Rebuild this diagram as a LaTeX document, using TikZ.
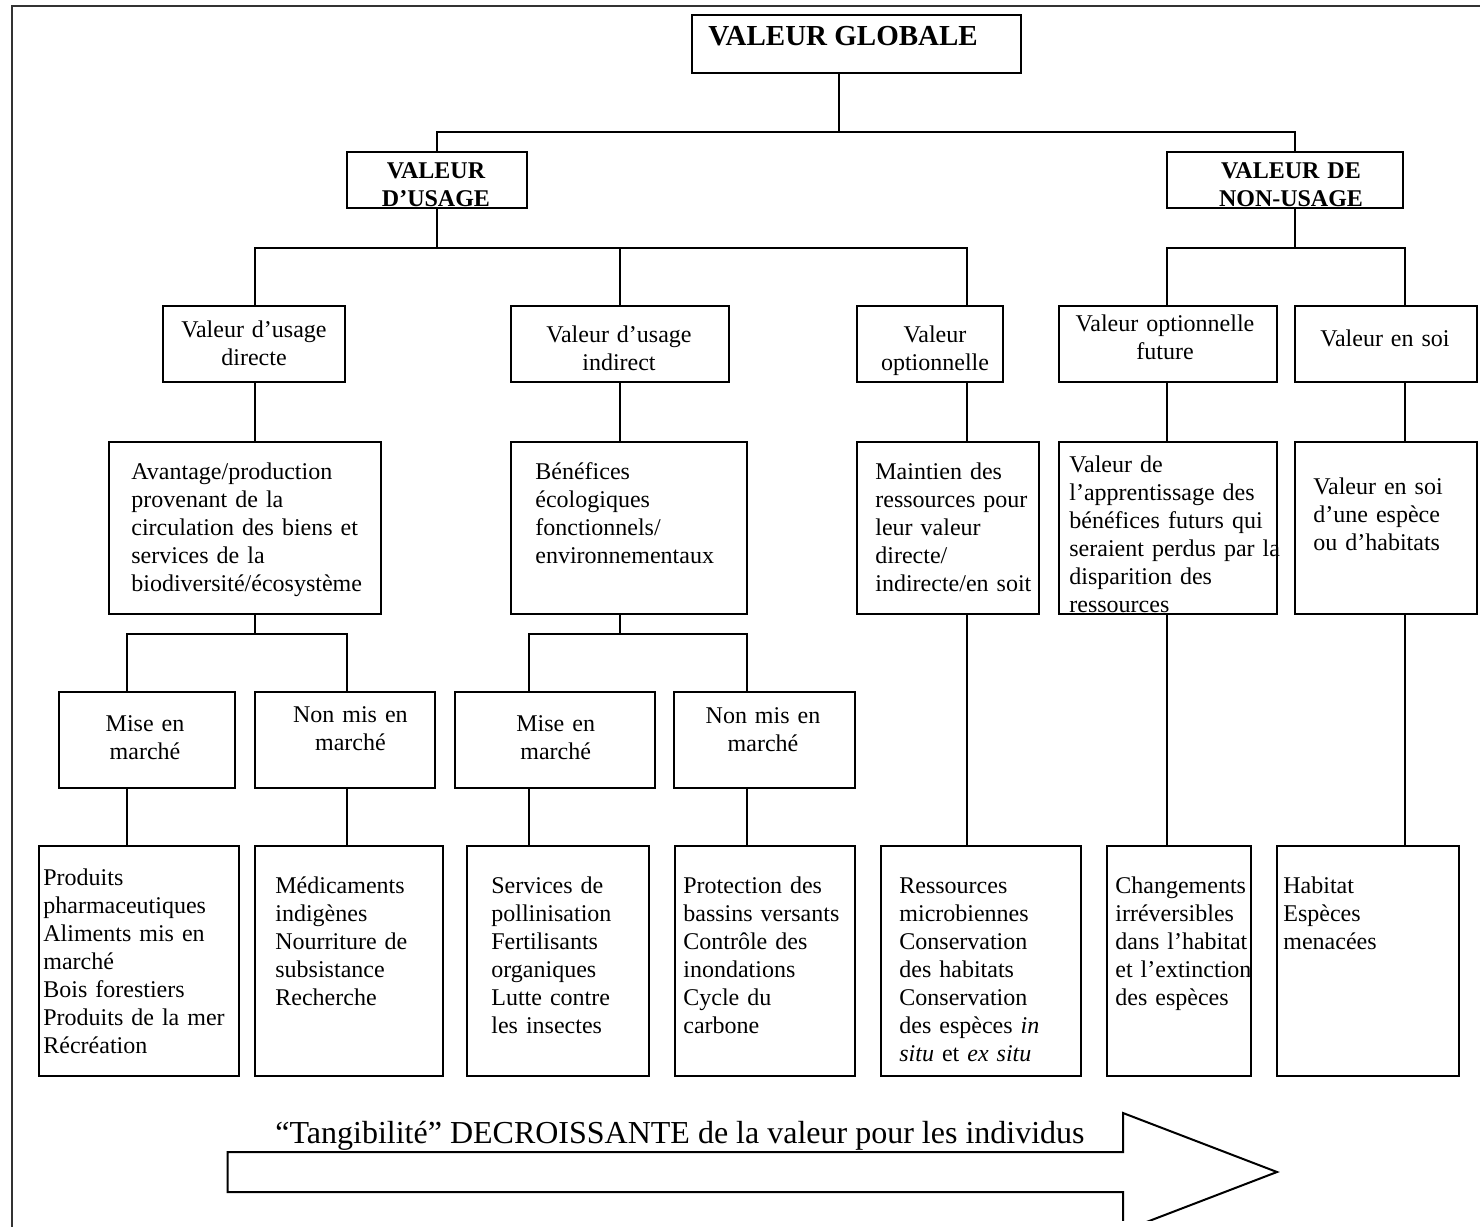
\documentclass[tikz,border=0pt]{standalone}
\usepackage{fontspec}
\setmainfont{Liberation Serif}
\usetikzlibrary{fit}
\tikzset{
  box/.style={draw, line width=1pt, inner sep=0pt},
  conn/.style={line width=1pt},
  frameline/.style={line width=1pt, draw=black!80},
  ltxt/.style={inner sep=0pt, font=\fontsize{12}{14}\selectfont, align=left, text width=130pt, anchor=base west},
  ctxt/.style={inner sep=0pt, font=\fontsize{12}{14}\selectfont, align=center, text width=130pt, anchor=base},
  btxt/.style={ctxt, font=\fontsize{12}{14}\selectfont\bfseries},
}
\newcommand\mkbox[5]{%
  \path (#2,#3) coordinate (#1-a) (#4,#5) coordinate (#1-b);
  \node[box, fit=(#1-a)(#1-b)] (#1) {};}
\begin{document}
\begin{tikzpicture}[x=0.5pt,y=-0.5pt]
\useasboundingbox (0,0) rectangle (1480,1227);
\clip (0,0) rectangle (1480,1227);
% outer frame (cropped)
\draw[frameline] (12,1250) -- (12,6) -- (1500,6);

% boxes
\mkbox{gv}{692}{15}{1021}{73}
\mkbox{usage}{347}{152}{527}{208}
\mkbox{nonusage}{1167}{152}{1403}{208}
\mkbox{direct}{163}{306}{344.5}{382}
\mkbox{indirect}{511}{306}{729}{382}
\mkbox{opt}{857}{306}{1003}{382}
\mkbox{future}{1059}{306}{1277}{382}
\mkbox{soi}{1294.5}{306}{1477}{382}
\mkbox{avantage}{109}{442}{381}{614}
\mkbox{benef}{511}{442}{747}{614}
\mkbox{maint}{857}{442}{1039}{614}
\mkbox{appr}{1059}{442}{1277}{614}
\mkbox{soi2}{1294.5}{442}{1477}{614}
\mkbox{mise1}{59}{692}{235}{788}
\mkbox{nonmis1}{255}{692}{434.6}{788}
\mkbox{mise2}{454.5}{692}{655}{788}
\mkbox{nonmis2}{674.3}{692}{855}{788}
\mkbox{b1}{39}{846}{239}{1076}
\mkbox{b2}{255}{846}{442.7}{1076}
\mkbox{b3}{467}{846}{649}{1076}
\mkbox{b4}{675}{846}{855}{1076}
\mkbox{b5}{880.6}{846}{1080.7}{1076}
\mkbox{b6}{1107}{846}{1251}{1076}
\mkbox{b7}{1277}{846}{1459}{1076}

% connector guide coordinates
\coordinate (x127) at (127,0);
\coordinate (x255) at (255,0);
\coordinate (x347) at (347,0);
\coordinate (x436) at (436.5,0);
\coordinate (x528) at (528.5,0);
\coordinate (x620) at (620,0);
\coordinate (x747) at (747.3,0);
\coordinate (x839) at (839,0);
\coordinate (x966) at (966.5,0);
\coordinate (x1167) at (1167,0);
\coordinate (x1294) at (1294.5,0);
\coordinate (x1404) at (1404.5,0);
\coordinate (y132) at (0,132);
\coordinate (y248) at (0,248);
\coordinate (y634) at (0,634);

% connectors
\draw[conn] (gv.south -| x839) -- (x839 |- y132);
\draw[conn] (usage.north -| x436) |- (y132 -| x1294) -- (nonusage.north -| x1294);
\draw[conn] (usage.south -| x436) -- (x436 |- y248);
\draw[conn] (direct.north -| x255) |- (y248 -| x966) -- (opt.north -| x966);
\draw[conn] (indirect.north -| x620) -- (x620 |- y248);
\draw[conn] (nonusage.south -| x1294) -- (x1294 |- y248);
\draw[conn] (future.north -| x1167) |- (y248 -| x1404) -- (soi.north -| x1404);

\draw[conn] (direct.south -| x255) -- (avantage.north -| x255);
\draw[conn] (indirect.south -| x620) -- (benef.north -| x620);
\draw[conn] (opt.south -| x966) -- (maint.north -| x966);
\draw[conn] (future.south -| x1167) -- (appr.north -| x1167);
\draw[conn] (soi.south -| x1404) -- (soi2.north -| x1404);

\draw[conn] (avantage.south -| x255) -- (x255 |- y634);
\draw[conn] (mise1.north -| x127) |- (y634 -| x347) -- (nonmis1.north -| x347);
\draw[conn] (benef.south -| x620) -- (x620 |- y634);
\draw[conn] (mise2.north -| x528) |- (y634 -| x747) -- (nonmis2.north -| x747);

\draw[conn] (maint.south -| x966) -- (b5.north -| x966);
\draw[conn] (appr.south -| x1167) -- (b6.north -| x1167);
\draw[conn] (soi2.south -| x1404) -- (b7.north -| x1404);

\draw[conn] (mise1.south -| x127) -- (b1.north -| x127);
\draw[conn] (nonmis1.south -| x347) -- (b2.north -| x347);
\draw[conn] (mise2.south -| x528) -- (b3.north -| x528);
\draw[conn] (nonmis2.south -| x747) -- (b4.north -| x747);

% texts
\node[inner sep=0pt, anchor=base west, font=\fontsize{14.5}{17}\selectfont\bfseries] (t-gv) at (708,45.7) {VALEUR GLOBALE};
\node[btxt] (t-usage) at (436,178.3) {VALEUR\\D’USAGE};
\node[btxt] (t-nonusage) at (1291,178.3) {VALEUR DE\\NON-USAGE};

\node[ctxt] (t-direct) at (254,337) {Valeur d’usage\\directe};
\node[ctxt] (t-indirect) at (619,342.6) {Valeur d’usage\\indirect};
\node[ctxt] (t-opt) at (935,342.6) {Valeur\\optionnelle};
\node[ctxt] (t-future) at (1165,331) {Valeur optionnelle\\future};
\node[ctxt] (t-soi) at (1385,346) {Valeur en soi};

\node[ltxt] (t-avantage) at (131,479.3) {Avantage/production\\provenant de la\\circulation des biens et\\services de la\\biodiversité/écosystème};
\node[ltxt] (t-benef) at (535,479.3) {Bénéfices\\écologiques\\fonctionnels/\\environnementaux};
\node[ltxt] (t-maint) at (875,479.3) {Maintien des\\ressources pour\\leur valeur\\directe/\\indirecte/en soit};
\node[ltxt] (t-appr) at (1069,472) {Valeur de\\l’apprentissage des\\bénéfices futurs qui\\seraient perdus par la\\disparition des\\ressources};
\node[ltxt] (t-soi2) at (1313,494.3) {Valeur en soi\\d’une espèce\\ou d’habitats};

\node[ctxt] (t-mise1) at (145,731) {Mise en\\marché};
\node[ctxt] (t-nonmis1) at (350.4,722) {Non mis en\\marché};
\node[ctxt] (t-mise2) at (555.7,731) {Mise en\\marché};
\node[ctxt] (t-nonmis2) at (763,723) {Non mis en\\marché};

\node[ltxt] (t-b1) at (43,885.3) {Produits\\pharmaceutiques\\Aliments mis en\\marché\\Bois forestiers\\Produits de la mer\\Récréation};
\node[ltxt] (t-b2) at (275,893.3) {Médicaments\\indigènes\\Nourriture de\\subsistance\\Recherche};
\node[ltxt] (t-b3) at (491,893.3) {Services de\\pollinisation\\Fertilisants\\organiques\\Lutte contre\\les insectes};
\node[ltxt] (t-b4) at (683,893.3) {Protection des\\bassins versants\\Contrôle des\\inondations\\Cycle du\\carbone};
\node[ltxt] (t-b5) at (899,893.3) {Ressources\\microbiennes\\Conservation\\des habitats\\Conservation\\des espèces \textit{in}\\\textit{situ} et \textit{ex situ}};
\node[ltxt] (t-b6) at (1115,893.3) {Changements\\irréversibles\\dans l’habitat\\et l’extinction\\des espèces};
\node[ltxt] (t-b7) at (1283,893.3) {Habitat\\Espèces\\menacées};

% arrow
\node[inner sep=0pt, anchor=base west, font=\fontsize{16}{19}\selectfont] (t-arrow) at (275,1143) {“Tangibilité” DECROISSANTE de la valeur pour les individus};
\begin{scope}
\clip (0,0) rectangle (1480,1220);
\draw[conn] (227.5,1152) -- (1123,1152) -- (1123,1113) -- (1277,1172) -- (1123,1231) -- (1123,1192) -- (227.5,1192) -- cycle;
\end{scope}
\end{tikzpicture}
\end{document}
